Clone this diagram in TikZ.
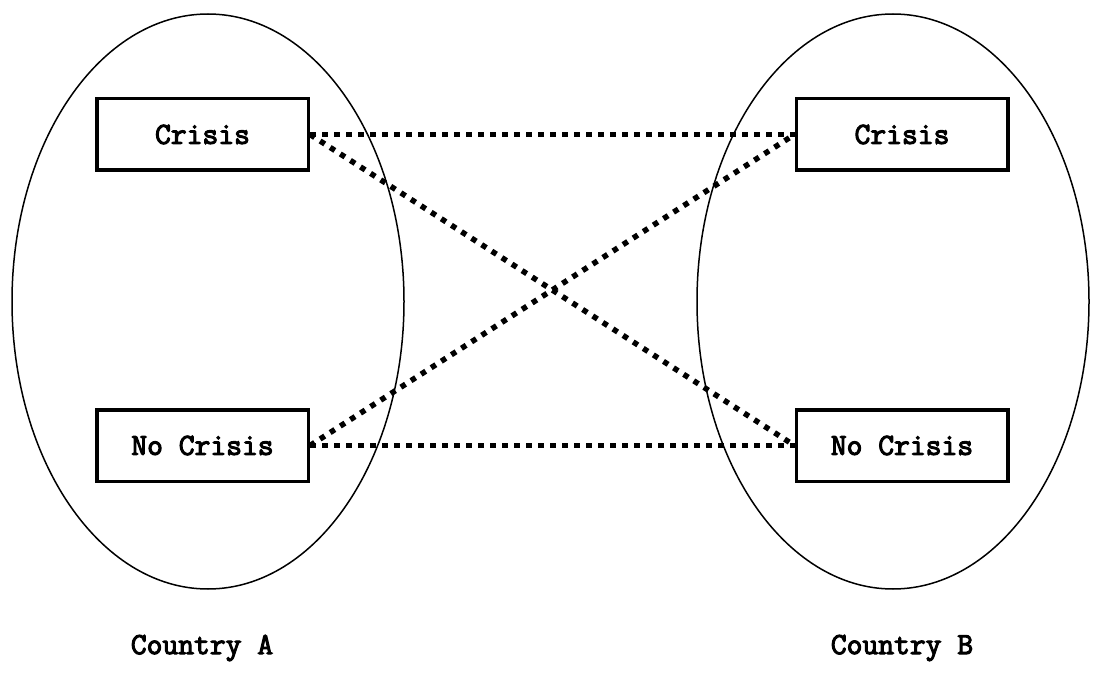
\documentclass[tikz,border=0pt]{standalone}
\usepackage{fontspec}
\newfontfamily\courfont{Latin Modern Mono}[FakeBold=3.5]
\begin{document}
\begin{tikzpicture}[x=1pt,y=-1pt,
  statebox/.style={draw, line width=3.5pt, minimum width=211.5pt, minimum height=71.5pt, inner sep=0pt,
    font=\fontsize{30.7}{34}\courfont},
  lbl/.style={font=\fontsize{30.7}{34}\courfont, inner sep=0pt},
  link/.style={line width=5.5pt, dash pattern=on 5.5pt off 6.5pt},
  country/.style={line width=1.5pt}]
\useasboundingbox (0,0) rectangle (1093,674);
\draw[country] (208,301.5) ellipse [x radius=196, y radius=287.5];
\draw[country] (893,301.5) ellipse [x radius=196, y radius=287.5];
\node[statebox] (ac) at (202.5,134.5) {Crisis};
\node[statebox] (an) at (202.5,445.5) {No Crisis};
\node[statebox] (bc) at (902,134.5) {Crisis};
\node[statebox] (bn) at (902,445.5) {No Crisis};
\draw[link] (ac.east) -- (bc.west);
\draw[link] (an.east) -- (bn.west);
\draw[link] (ac.east) -- (bn.west);
\draw[link] (an.east) -- (bc.west);
\node[lbl] (ca) at (202,648) {Country A};
\node[lbl] (cb) at (902,648) {Country B};
\end{tikzpicture}
\end{document}
